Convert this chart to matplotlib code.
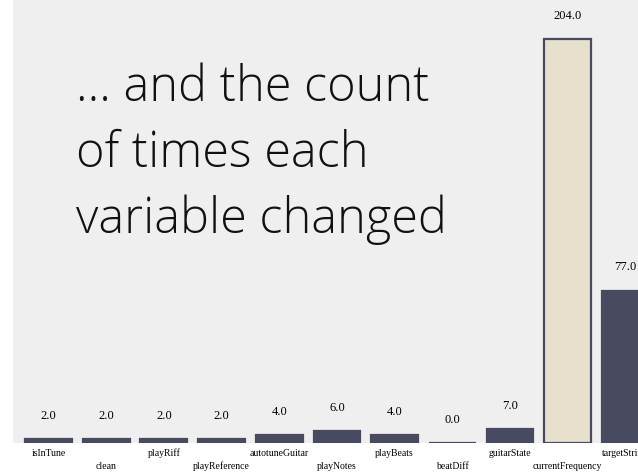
import matplotlib
matplotlib.use('Agg')
import matplotlib.pyplot as plt

variables = ['isInTune', 'clean', 'playRiff', 'playReference', 'autotuneGuitar',
             'playNotes', 'playBeats', 'beatDiff', 'guitarState',
             'currentFrequency', 'targetString']
counts = [2.0, 2.0, 2.0, 2.0, 4.0, 6.0, 4.0, 0.0, 7.0, 204.0, 77.0]
highlight = 'currentFrequency'
title_lines = ['… and the count', 'of times each', 'variable changed']

dark = '#484a5f'
beige = '#e6e0cc'
bg = '#efefef'

W, H = 638, 473
fig = plt.figure(figsize=(W / 100, H / 100), dpi=100)
ax = fig.add_axes([13 / W, 30 / H, 1 - 13 / W, 443 / H])
ax.set_facecolor(bg)

xs = list(range(len(variables)))
colors = [beige if v == highlight else dark for v in variables]
ax.bar(xs, counts, width=0.81, color=colors, edgecolor=dark, linewidth=1.6)

# value labels above bars
for x, c in zip(xs, counts):
    ax.annotate('%.1f' % c, (x, c), xytext=(0, 12.5), textcoords='offset points',
                ha='center', va='bottom', fontsize=9, family='Liberation Serif')

# staggered category labels
for i, (x, name) in enumerate(zip(xs, variables)):
    off = 7.5 if i % 2 == 0 else 17
    ax.annotate(name, xy=(x, 0), xycoords=('data', 'axes fraction'),
                xytext=(0, -off), textcoords='offset points',
                ha='center', va='center', fontsize=7,
                family='Liberation Serif', annotation_clip=False)

ax.set_xlim(-0.615, 10.22)
ax.set_ylim(0, 223.7)
ax.set_xticks([])
ax.set_yticks([])
for s in ax.spines.values():
    s.set_visible(False)

baselines = [100.7, 166.8, 233.0]
for line, yb in zip(title_lines, baselines):
    fig.text(76 / W, 1 - yb / H, line, fontsize=35, family='Open Sans',
             fontweight='light', va='baseline', ha='left', color='#111111')

fig.savefig('out.png', dpi=100)
